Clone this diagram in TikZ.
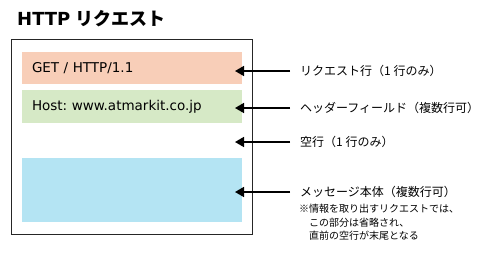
\documentclass[tikz,border=0pt]{standalone}
\usepackage{fontspec}
\usepackage{tikz}
\usetikzlibrary{arrows.meta,positioning,calc}
\newfontfamily\jpfont{Noto Sans CJK JP}
\newfontfamily\vfont{DejaVu Sans}
\definecolor{reqline}{RGB}{248,206,184}
\definecolor{hdrfield}{RGB}{214,233,198}
\definecolor{msgbody}{RGB}{180,228,243}
\frenchspacing

\begin{document}
\begin{tikzpicture}[
    x=1pt,y=-1pt,
    part/.style={rectangle,minimum width=220pt,text width=200pt,inner xsep=10pt,align=left,font=\vfont\fontsize{13.5}{16}\selectfont},
    lbl/.style={anchor=west,inner xsep=10pt,inner ysep=0pt,font=\jpfont\fontsize{12}{14}\selectfont},
    arrow/.style={line width=1.6pt,-{Triangle[length=9pt,width=10pt]}}
]
    \useasboundingbox (0,0) rectangle (490,258);
    \node[anchor=base west,inner sep=0pt,font=\fontsize{18}{21}\selectfont] (title) at (17,25.5) {{\vfont\bfseries HTTP} {\jpfont\bfseries リクエスト}};

    \draw[black!85,line width=1pt] (11,39) rectangle (252,234);

    \node[part,fill=reqline,minimum height=32pt] (req) at (132,68) {GET / HTTP/1.1};
    \node[part,fill=hdrfield,minimum height=33pt] (hdr) at (132,106.5) {Host: www.atmarkit.co.jp};
    \node[part,fill=msgbody,minimum height=64pt] (body) at (132,190) {};

    \coordinate (reqtip) at (235,71);
    \coordinate (hdrtip) at (235,108);
    \coordinate (blanktip) at (235,142);
    \coordinate (bodytip) at (235,192);

    \node[lbl] (reqlbl) at (290,71) {リクエスト行（1 行のみ）};
    \node[lbl] (hdrlbl) at (290,108) {ヘッダーフィールド（複数行可）};
    \node[lbl] (blanklbl) at (290,142) {空行（1 行のみ）};
    \node[lbl] (bodylbl) at (290,192) {メッセージ本体（複数行可）};
    \node[anchor=north west,inner sep=0pt,align=left,font=\jpfont\fontsize{10}{13.5}\selectfont] (note) at (299,204)
        {※情報を取り出すリクエストでは、\\\hspace*{1em}この部分は省略され、\\\hspace*{1em}直前の空行が末尾となる};

    \draw[arrow] (reqlbl.west) -- (reqtip);
    \draw[arrow] (hdrlbl.west) -- (hdrtip);
    \draw[arrow] (blanklbl.west) -- (blanktip);
    \draw[arrow] (bodylbl.west) -- (bodytip);
\end{tikzpicture}
\end{document}
